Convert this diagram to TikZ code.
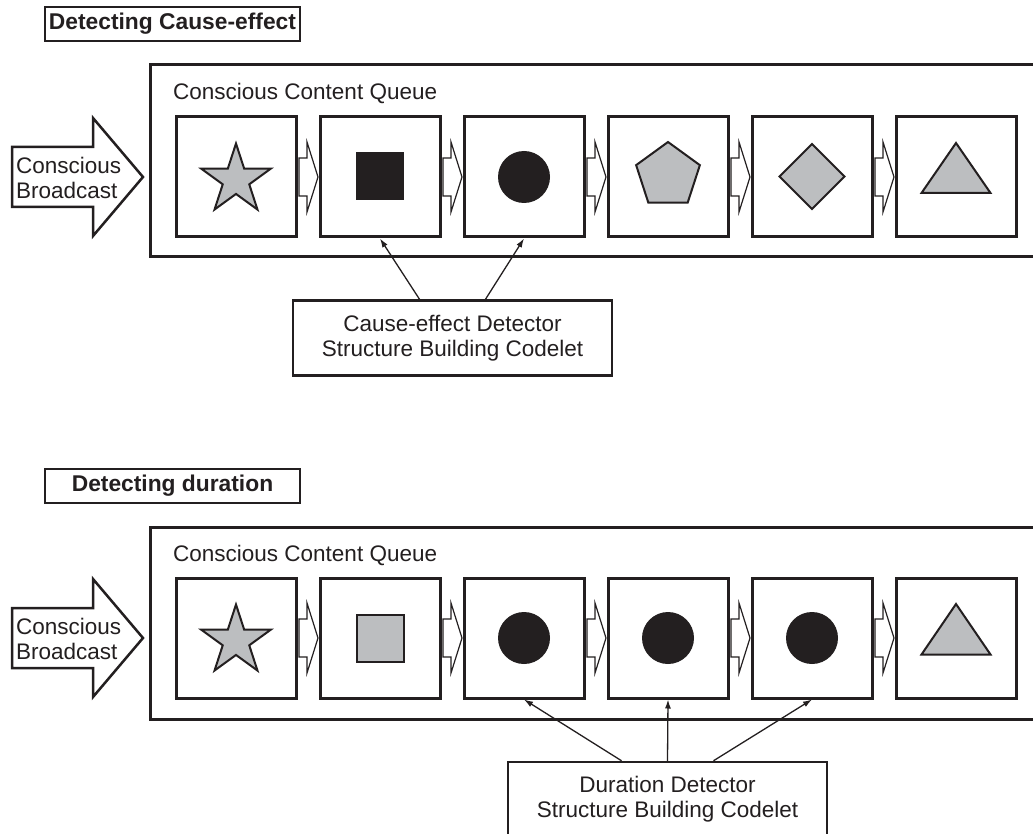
\documentclass[tikz,border=0pt]{standalone}
\usepackage{fontspec}
\setmainfont{Liberation Sans}
\usetikzlibrary{arrows.meta,calc,shapes.geometric}
\definecolor{ink}{HTML}{231F20}
\definecolor{shade}{HTML}{BCBEC0}

\begin{document}
\begin{tikzpicture}[x=1pt,y=-1pt,text=ink,font=\fontsize{22.5}{25}\selectfont]
\useasboundingbox (0,0) rectangle (1033,834);
\clip (0,0) rectangle (1033,834);

\tikzset{title/.style = {draw=ink, line width=1.2pt, minimum width=255pt, minimum height=34pt, inner sep=0pt, font=\fontsize{22.8}{25}\selectfont\bfseries}}
\tikzset{queue/.style = {draw=ink, line width=3pt, minimum width=1000pt, minimum height=192pt, outer sep=0pt, anchor=north west}}
\tikzset{item/.style = {draw=ink, fill=white, line width=3pt, minimum size=120pt, inner sep=0pt}}
\tikzset{glyph/.style = {draw=ink, fill=shade, line width=2pt, inner sep=0pt}}
\tikzset{codelet/.style = {draw=ink, fill=white, line width=2.5pt, minimum width=319pt, minimum height=75pt, align=center}}
\tikzset{bcast/.style = {draw=ink, fill=white, line width=2.5pt, line join=miter}}
\tikzset{link/.style = {-{Latex[length=9pt,width=6pt]}, draw=ink, line width=1.3pt}}
\tikzset{gaparrow/.pic = {\draw[draw=ink, fill=white, line width=1.2pt]
  (-9,-19) -- (-1,-19) -- (-1,-35) -- (10,0) -- (-1,35) -- (-1,19) -- (-9,19) -- cycle;}}

% cause-effect
\node[title] (cetitle) at (172.5,24) {Detecting Cause-effect};
\node[queue] (cq) at (150,65) {};
\node[anchor=base west, inner sep=0pt] (cqlabel) at (173,100) {Conscious Content Queue};
\draw[bcast] (12,147) -- (93,147) -- (93,118) -- (143,177) -- (93,236) -- (93,207) -- (12,207) -- cycle;
\node[anchor=west, align=left, inner sep=0pt] (cbcast) at (16,178) {Conscious\\Broadcast};

\foreach \i in {1,...,6}
\node[item] (c\i) at ({92+144*\i},177) {};
\foreach \i in {1,...,5}
\pic at ({164+144*\i},177) {gaparrow};

\node[glyph, star, star points=5, star point ratio=2.618, minimum size=73pt] (cstar) at (236,180) {};
\node[fill=ink, inner sep=0pt, minimum size=48pt] (csquare) at (380,176) {};
\node[circle, fill=ink, inner sep=0pt, minimum size=52pt] (cdot) at (524,177) {};
\node[glyph, regular polygon, regular polygon sides=5, minimum size=67pt] (cpent) at (668,175.5) {};
\node[glyph, regular polygon, regular polygon sides=4, regular polygon rotate=45, minimum size=65pt] (cdiam) at (812,176.5) {};
\draw[glyph] ($(c6)+(0,-34)$) -- ($(c6)+(34.5,16)$) -- ($(c6)+(-34.5,16)$) -- cycle;

\node[codelet] (cecodelet) at (452.5,338) {Cause-effect Detector\\Structure Building Codelet};
\draw[link] ($(cecodelet.north)+(-33,0)$) -- (c2.south);
\draw[link] ($(cecodelet.north)+(33,0)$) -- (c3.south);

% duration
\begin{scope}[shift={(0,461)}]
\node[title] (dutitle) at (172.5,25) {Detecting duration};
\node[queue] (dq) at (150,66) {};
\node[anchor=base west, inner sep=0pt] (dqlabel) at (173,100) {Conscious Content Queue};
\draw[bcast] (12,147) -- (93,147) -- (93,118) -- (143,177) -- (93,236) -- (93,207) -- (12,207) -- cycle;
\node[anchor=west, align=left, inner sep=0pt] (dbcast) at (16,178) {Conscious\\Broadcast};

\foreach \i in {1,...,6}
\node[item] (d\i) at ({92+144*\i},177) {};
\foreach \i in {1,...,5}
\pic at ({164+144*\i},177) {gaparrow};

\node[glyph, star, star points=5, star point ratio=2.618, minimum size=73pt] (dstar) at (236,180) {};
\node[glyph, minimum size=47pt] (dsquare) at (380,177) {};
\foreach \i in {3,4,5}
\node[circle, fill=ink, inner sep=0pt, minimum size=52pt] (ddot\i) at (d\i) {};
\draw[glyph] ($(d6)+(0,-34)$) -- ($(d6)+(34.5,16.5)$) -- ($(d6)+(-34.5,16.5)$) -- cycle;

\node[codelet] (ducodelet) at (667.5,338.5) {Duration Detector\\Structure Building Codelet};
\draw[link] ($(ducodelet.north)+(-46,0)$) -- (d3.south);
\draw[link] (ducodelet.north) -- (d4.south);
\draw[link] ($(ducodelet.north)+(46,0)$) -- (d5.south);
\end{scope}
\end{tikzpicture}
\end{document}
